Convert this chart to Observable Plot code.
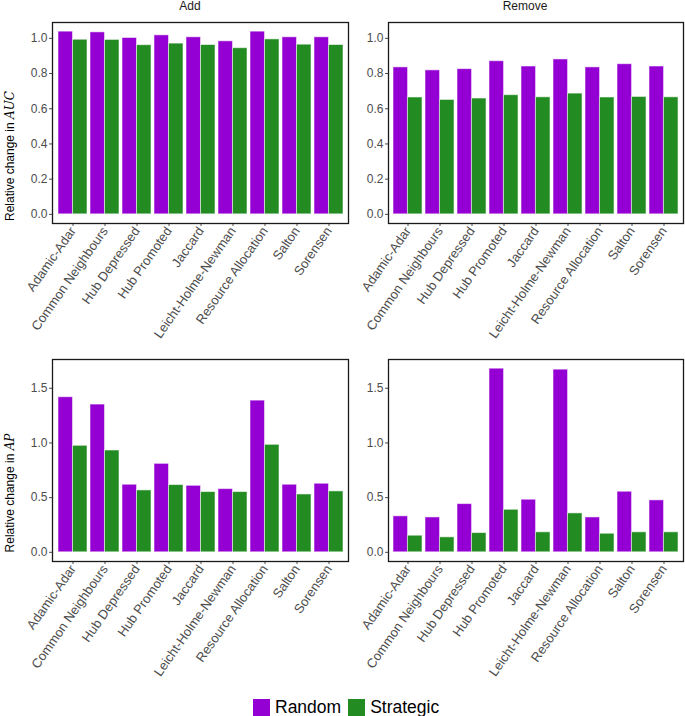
<!DOCTYPE html>
<html>
<head>
<meta charset="utf-8">
<script src="https://cdn.jsdelivr.net/npm/d3@7"></script>
<script src="https://cdn.jsdelivr.net/npm/@observablehq/plot@0.6"></script>
<style>
  html, body { margin: 0; padding: 0; background: #fff; }
  #root { position: relative; width: 685px; height: 716px; overflow: hidden; font-family: "Liberation Sans", Arial, sans-serif; }
  .panel { position: absolute; }
  .strip { position: absolute; font-size: 12px; line-height: 13px; color: #1a1a1a; transform: translateX(-50%); white-space: nowrap; }
  .ylab { position: absolute; font-size: 12px; color: #000; white-space: nowrap; transform: translate(-50%, -50%) rotate(-90deg); }
  .ylab i { font-family: "DejaVu Serif", "Liberation Serif", serif; font-style: italic; font-size: 12px; }
  .legend { position: absolute; left: 253px; top: 697px; display: flex; align-items: center; font-size: 17.5px; color: #000; }
  .legend .sw { width: 17px; height: 17px; display: inline-block; }
  .legend span.t { margin-left: 5px; margin-right: 7px; }
</style>
</head>
<body>
<div id="root"></div>
<script>
const methods = ["Adamic-Adar", "Common Neighbours", "Hub Depressed", "Hub Promoted", "Jaccard",
  "Leicht-Holme-Newman", "Resource Allocation", "Salton", "Sorensen"];
const series = ["Random", "Strategic"];
const colors = ["#9400D3", "#228B22"];
const facets = ["Add", "Remove"];

// Relative change in AUC
const addAucRandom     = [1.038, 1.034, 1.002, 1.017, 1.006, 0.983, 1.038, 1.006, 1.006];
const addAucStrategic  = [0.992, 0.991, 0.961, 0.970, 0.962, 0.944, 0.994, 0.964, 0.962];
const remAucRandom     = [0.835, 0.818, 0.825, 0.870, 0.840, 0.880, 0.835, 0.853, 0.840];
const remAucStrategic  = [0.664, 0.650, 0.658, 0.677, 0.665, 0.686, 0.664, 0.667, 0.665];
// Relative change in AP
const addApRandom      = [1.418, 1.351, 0.618, 0.809, 0.608, 0.578, 1.387, 0.618, 0.627];
const addApStrategic   = [0.974, 0.931, 0.566, 0.615, 0.551, 0.551, 0.983, 0.529, 0.557];
const remApRandom      = [0.329, 0.319, 0.441, 1.679, 0.481, 1.670, 0.319, 0.554, 0.475];
const remApStrategic   = [0.152, 0.137, 0.176, 0.389, 0.183, 0.356, 0.170, 0.183, 0.183];

const aucTicks = [0, 0.2, 0.4, 0.6, 0.8, 1.0];
const apTicks = [0, 0.5, 1.0, 1.5];

function rows(r, s) {
  return methods.flatMap((m, i) => [
    {method: m, group: series[0], value: r[i]},
    {method: m, group: series[1], value: s[i]}
  ]);
}
function domainOf(arrs) {
  const mx = d3.max(arrs.flat());
  const e = mx * 0.05;
  return [-e, mx + e];
}

const root = document.getElementById("root");

function panel({data, yDomain, ticks, left, top, width, height, mL, mR, mT, mB}) {
  const plotW = width - mL - mR;
  const step = plotW / (methods.length - 0.1 + 0.3);
  const half = step * 0.9 / 2;
  const chart = Plot.plot({
    width, height,
    marginLeft: mL, marginRight: mR, marginTop: mT, marginBottom: mB,
    style: {fontFamily: "'Liberation Sans', Arial, sans-serif", fontSize: "12px", color: "#4d4d4d", background: "transparent"},
    x: {type: "band", domain: methods, paddingInner: 0.1, paddingOuter: 0.15},
    y: {domain: yDomain},
    marks: [
      Plot.barY(data.filter(d => d.group === series[0]), {x: "method", y1: 0, y2: "value", fill: colors[0],
        insetRight: half, stroke: "white", strokeOpacity: 0.55, strokeWidth: 1}),
      Plot.barY(data.filter(d => d.group === series[1]), {x: "method", y1: 0, y2: "value", fill: colors[1],
        insetLeft: half, stroke: "white", strokeOpacity: 0.55, strokeWidth: 1}),
      Plot.axisY({ticks, tickFormat: d3.format(".1f"), tickSize: 3, tickPadding: 2, label: null, fontSize: 12}),
      Plot.axisX({tickSize: 3, tickRotate: -55, tickPadding: 2, label: null, fontSize: 13, textAnchor: "end"}),
      Plot.frame({stroke: "#1a1a1a", strokeWidth: 1.3})
    ]
  });
  const div = document.createElement("div");
  div.className = "panel";
  div.style.left = left + "px";
  div.style.top = top + "px";
  div.appendChild(chart);
  root.appendChild(div);
}

const topDomain = domainOf([addAucRandom, addAucStrategic, remAucRandom, remAucStrategic]);
const botDomain = domainOf([addApRandom, addApStrategic, remApRandom, remApStrategic]);

panel({data: rows(addAucRandom, addAucStrategic), yDomain: topDomain, ticks: aucTicks,
  left: 0, top: 0, width: 350, height: 345, mL: 52, mR: 2, mT: 22, mB: 122});
panel({data: rows(remAucRandom, remAucStrategic), yDomain: topDomain, ticks: aucTicks,
  left: 350, top: 0, width: 335, height: 345, mL: 38, mR: 2, mT: 22, mB: 122});
panel({data: rows(addApRandom, addApStrategic), yDomain: botDomain, ticks: apTicks,
  left: 0, top: 350, width: 350, height: 335, mL: 52, mR: 2, mT: 9, mB: 124});
panel({data: rows(remApRandom, remApStrategic), yDomain: botDomain, ticks: apTicks,
  left: 350, top: 350, width: 335, height: 335, mL: 38, mR: 2, mT: 9, mB: 124});

// strip titles
[[facets[0], 190], [facets[1], 525]].forEach(([t, x]) => {
  const s = document.createElement("div");
  s.className = "strip";
  s.style.left = x + "px";
  s.style.top = "0px";
  s.textContent = t;
  root.appendChild(s);
});

// y-axis titles
[["AUC", 156], ["AP", 493]].forEach(([m, y]) => {
  const l = document.createElement("div");
  l.className = "ylab";
  l.style.left = "10px";
  l.style.top = y + "px";
  l.innerHTML = "Relative change in <i>" + m + "</i>";
  root.appendChild(l);
});

// legend
const leg = document.createElement("div");
leg.className = "legend";
series.forEach((s, i) => {
  const sw = document.createElement("span");
  sw.className = "sw";
  sw.style.background = colors[i];
  const t = document.createElement("span");
  t.className = "t";
  t.textContent = s;
  leg.appendChild(sw);
  leg.appendChild(t);
});
root.appendChild(leg);
</script>
</body>
</html>
